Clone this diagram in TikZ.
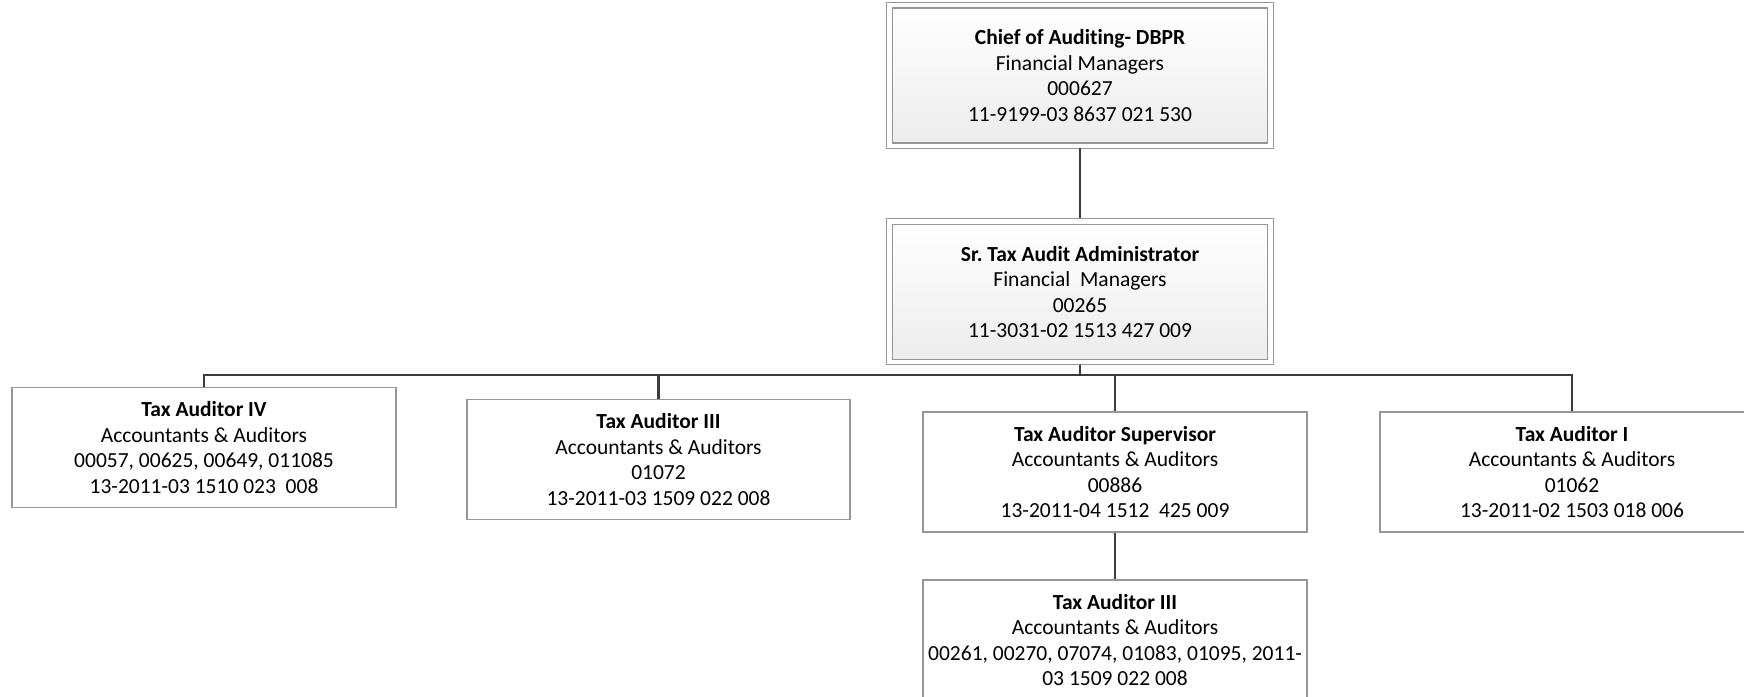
\documentclass[tikz,border=0pt]{standalone}
\usepackage{fontspec}
\setmainfont{Carlito}[Ligatures={NoCommon}]
\definecolor{framegray}{RGB}{150,150,150}
\definecolor{linkgray}{RGB}{60,60,60}
\definecolor{shadelow}{RGB}{236,236,236}
\frenchspacing
\begin{document}
\begin{tikzpicture}[x=1pt,y=-1pt,
  boxtext/.style={font=\fontsize{21.5}{25.5}\selectfont, align=center, inner sep=0pt},
  rolebox/.style={boxtext, draw=framegray, line width=1.3pt, fill=white,
    minimum width=384pt, minimum height=120pt},
  headbox/.style={boxtext, draw=framegray, line width=1.3pt,
    top color=white, bottom color=shadelow,
    minimum width=375pt, minimum height=135pt},
  frame/.style={draw=framegray, line width=1.3pt},
  conn/.style={draw=linkgray, line width=2.6pt}]
\useasboundingbox (0,0) rectangle (1744,696);
\clip (0,0) rectangle (1744,696);

% top two positions, each with a double frame
\node[headbox] (chief) at (1080,75.5)
  {\textbf{Chief of Auditing- DBPR}\\Financial Managers\\000627\\11-9199-03 8637 021 530};
\draw[frame] ([xshift=-5.5pt,yshift=5pt]chief.north west) rectangle ([xshift=5.5pt,yshift=-4.5pt]chief.south east);

\node[headbox] (sr) at (1080,292)
  {\textbf{Sr. Tax Audit Administrator}\\Financial\ \ Managers\\00265\\11-3031-02 1513 427 009};
\draw[frame] ([xshift=-5.5pt,yshift=5.5pt]sr.north west) rectangle ([xshift=5.5pt,yshift=-4.5pt]sr.south east);

% auditor positions
\node[rolebox] (t4) at (204,447.5)
  {\textbf{Tax Auditor IV}\\Accountants \& Auditors\\00057, 00625, 00649, 011085\\13-2011-03 1510 023\ \ 008};
\node[rolebox, minimum width=383pt] (t3a) at (658.5,459.5)
  {\textbf{Tax Auditor III}\\Accountants \& Auditors\\01072\\13-2011-03 1509 022 008};
\node[rolebox] (sup) at (1115,472)
  {\textbf{Tax Auditor Supervisor}\\Accountants \& Auditors\\00886\\13-2011-04 1512\ \ 425 009};
\node[rolebox] (t1) at (1572,472)
  {\textbf{Tax Auditor I}\\Accountants \& Auditors\\01062\\13-2011-02 1503 018 006};
\node[rolebox] (t3b) at (1115,640)
  {\textbf{Tax Auditor III}\\Accountants \& Auditors\\00261, 00270, 07074, 01083, 01095, 2011-\\03 1509 022 008};

% reporting lines
\coordinate (chiefB) at ([yshift=-4.5pt]chief.south);
\coordinate (srT) at ([yshift=5.5pt]sr.north);
\coordinate (srB) at ([yshift=-4.5pt]sr.south);
\coordinate (bus) at (0,375);

\draw[conn] (chiefB) -- (srT);
\draw[conn] (srB) -- (srB |- bus) -| (t4.north);
\draw[conn] (srB) -- (srB |- bus) -| (t3a.north);
\draw[conn] (srB) -- (srB |- bus) -| (sup.north);
\draw[conn] (srB) -- (srB |- bus) -| (t1.north);
\draw[conn] (sup.south) -- (t3b.north);
\end{tikzpicture}
\end{document}
